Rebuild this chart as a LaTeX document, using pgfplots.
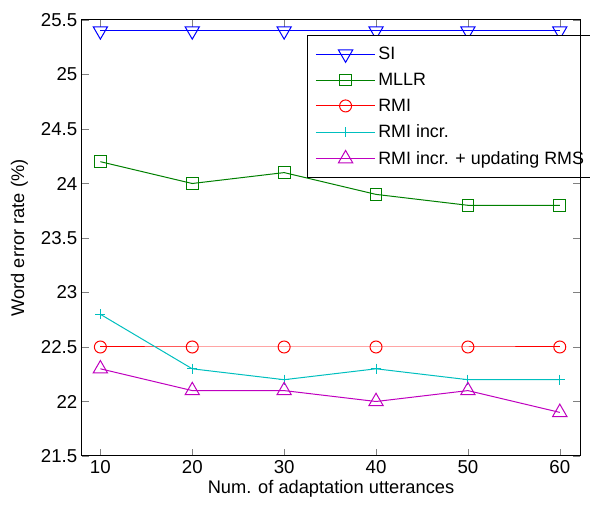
\documentclass[border=0pt]{standalone}
\usepackage{pgfplots}
\pgfplotsset{compat=1.18}
\usepackage{fontspec}
\setmainfont{Liberation Sans}
\definecolor{mlblue}{rgb}{0,0,1}
\definecolor{mlgreen}{rgb}{0,0.5,0}
\definecolor{mlred}{rgb}{1,0,0}
\definecolor{mlcyan}{rgb}{0,0.75,0.75}
\definecolor{mlmagenta}{rgb}{0.75,0,0.75}
\begin{document}
\begin{tikzpicture}
\begin{axis}[
    name=ax,
    scale only axis,
    width=373.5pt, height=327pt,
    xmin=8, xmax=62.2,
    ymin=21.5, ymax=25.5,
    xtick={10,20,...,60},
    ytick={21.5,22,...,25.5},
    yticklabel style={/pgf/number format/.cd, fixed, precision=1},
    /pgf/number format/assume math mode=true,
    tick align=inside,
    tick pos=both,
    major tick length=5pt,
    tick label style={font=\fontsize{14}{16}\selectfont},
    label style={font=\fontsize{13.7}{16}\selectfont},
    xlabel={Num. of adaptation utterances},
    ylabel={Word error rate (\%)},
    xlabel style={yshift=2pt},
    ylabel style={yshift=3pt},
    axis line style={line width=0.75pt},
    every axis plot/.append style={line width=0.75pt},
    legend cell align=left,
    legend style={at={(rel axis cs:0.4518,0.9656)}, anchor=north west,
        font=\fontsize{13.4}{16}\selectfont, line width=0.75pt,
        row sep=4.7pt, inner xsep=6pt, inner ysep=6.5pt},
    legend image code/.code={
        \draw[mark repeat=2, mark phase=2, line width=0.75pt] plot coordinates {(0cm,0cm) (0.78cm,0cm) (1.56cm,0cm)};
    },
]
\addplot[color=mlblue, mark=triangle, mark size=6.2pt, mark options={solid, rotate=180}]
    coordinates {(10,25.4) (20,25.4) (30,25.4) (40,25.4) (50,25.4) (60,25.4)};
\addplot[color=mlgreen, mark=square, mark size=4.4pt, mark options={solid}]
    coordinates {(10,24.2) (20,24.0) (30,24.1) (40,23.9) (50,23.8) (60,23.8)};
\addplot[color=mlred, mark=o, mark size=4.5pt, mark options={solid}]
    coordinates {(10,22.5) (20,22.5) (30,22.5) (40,22.5) (50,22.5) (60,22.5)};
\addplot[color=mlcyan, mark=+, mark size=3.8pt, mark options={solid}]
    coordinates {(10,22.8) (20,22.3) (30,22.2) (40,22.3) (50,22.2) (60,22.2)};
\addplot[color=mlmagenta, mark=triangle, mark size=6.2pt, mark options={solid}]
    coordinates {(10,22.3) (20,22.1) (30,22.1) (40,22.0) (50,22.1) (60,21.9)};
\legend{SI, MLLR, RMI, RMI incr., RMI incr. + updating RMS}
\end{axis}
\draw[line width=0.75pt] (ax.north east) -- (ax.south east);
\pgfresetboundingbox
\path[use as bounding box] ([xshift=-61.5pt,yshift=-37.5pt]ax.south west) rectangle ([xshift=7.5pt,yshift=15pt]ax.north east);
\end{tikzpicture}
\end{document}
